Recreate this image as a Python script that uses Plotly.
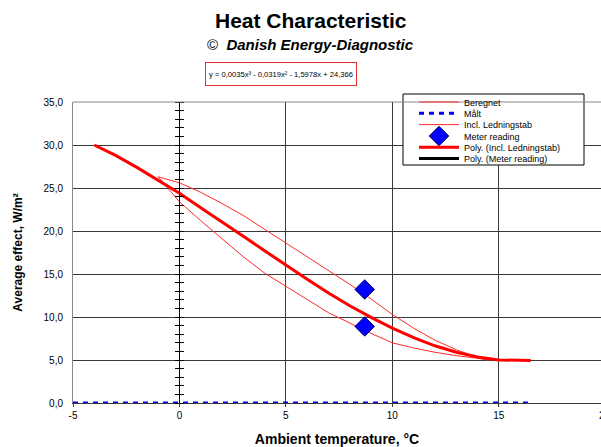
import plotly.graph_objects as go

# ---------------- data ----------------
poly_x = [-4, -3, -2, -1, 0, 1, 2, 3, 4, 5, 6, 7, 8, 9, 10, 11, 12, 13, 14, 15, 16, 16.5]
poly_y = [30.0, 28.8, 27.4, 25.9, 24.4, 22.7, 21.1, 19.4, 17.7, 16.0, 14.4, 12.8, 11.3, 9.95, 8.7, 7.6, 6.65, 5.9, 5.35, 5.0, 4.95, 4.95]

incl_x = [-1.0, 0, 1, 2, 3, 4, 5, 6, 7, 8, 9, 10, 11, 12, 13, 14, 14.5]
incl_y = [26.3, 25.6, 24.5, 23.2, 21.8, 20.2, 18.7, 17.0, 15.4, 13.8, 12.1, 10.3, 8.7, 7.3, 6.2, 5.3, 5.0]

beregnet_x = [-1.0, -0.5, 0, 1, 2, 3, 4, 5, 6, 7, 8, 9, 10, 11, 12, 13, 14, 14.5]
beregnet_y = [26.3, 24.8, 23.4, 21.2, 19.1, 17.0, 15.1, 13.6, 12.0, 10.5, 9.3, 8.1, 7.0, 6.4, 5.9, 5.5, 5.2, 5.0]

maalt_x = [-5, -4, -3, -2, -1, 0, 1, 2, 3, 4, 5, 6, 7, 8, 9, 10, 11, 12, 13, 14, 15, 16, 16.5]
maalt_y = [0.0] * len(maalt_x)

meter_x = [8.7, 8.7]
meter_y = [13.2, 8.9]

y_ticks = [0, 5, 10, 15, 20, 25, 30, 35]
y_tick_text = ["0,0", "5,0", "10,0", "15,0", "20,0", "25,0", "30,0", "35,0"]
x_ticks = [-5, 0, 5, 10, 15]
x_tick_text = ["-5", "0", "5", "10", "15"]

X_RANGE = [-5, 19.8]
Y_RANGE = [0, 35]

# ---------------- layout geometry (pixels) ----------------
W, H = 601, 447
ML, MR, MT, MB = 73, 0, 102, 44
PW = W - ML - MR
PH = H - MT - MB


def px_x(p):
    return (p - ML) / PW


def px_y(p):
    return (H - MB - p) / PH


FONT = "Liberation Sans, Arial, sans-serif"
GRID = "#3a3a3a"

fig = go.Figure()

fig.add_trace(go.Scatter(x=beregnet_x, y=beregnet_y, mode="lines", name="Beregnet",
                         line=dict(color="#ff2a2a", width=1), legend="legend"))
fig.add_trace(go.Scatter(x=maalt_x, y=maalt_y, mode="lines", name="Målt",
                         line=dict(color="#0000ff", width=3, dash="5px,5px"), legend="legend2"))
fig.add_trace(go.Scatter(x=incl_x, y=incl_y, mode="lines", name="Incl. Ledningstab",
                         line=dict(color="#ff2a2a", width=1), legend="legend3"))
fig.add_trace(go.Scatter(x=meter_x, y=meter_y, mode="markers", name="Meter reading",
                         marker=dict(symbol="diamond", size=15, color="#0000ff",
                                     line=dict(color="#000060", width=1)), legend="legend4"))
fig.add_trace(go.Scatter(x=poly_x, y=poly_y, mode="lines", name="Poly. (Incl. Ledningstab)",
                         line=dict(color="#ff0000", width=3), legend="legend5"))
fig.add_trace(go.Scatter(x=[None], y=[None], mode="lines", name="Poly. (Meter reading)",
                         line=dict(color="#000000", width=3), legend="legend6"))
# invisible helpers so the tick-bearing zero axes are drawn
fig.add_trace(go.Scatter(x=[None], y=[None], yaxis="y2", showlegend=False, hoverinfo="skip"))
fig.add_trace(go.Scatter(x=[None], y=[None], yaxis="y3", showlegend=False, hoverinfo="skip"))

# legend rows
row_y = [102, 113.3, 124.6, 136, 147.3, 158.6]
leg_common = dict(bgcolor="rgba(0,0,0,0)", borderwidth=0, xanchor="left", yanchor="middle",
                  font=dict(family=FONT, size=9, color="#000"), itemwidth=40)
legends = {}
for i, ry in enumerate(row_y):
    key = "legend" if i == 0 else f"legend{i + 1}"
    legends[key] = dict(leg_common, x=px_x(414), y=px_y(ry))

fig.update_layout(**legends)

shapes = [
    # legend box
    dict(type="rect", xref="paper", yref="paper", x0=px_x(403), x1=px_x(584),
         y0=px_y(165), y1=px_y(94), fillcolor="white", line=dict(color="black", width=1),
         layer="above"),
    # top frame line
    dict(type="line", xref="paper", yref="paper", x0=0, x1=1, y0=1, y1=1,
         line=dict(color="#8a8a8a", width=1)),
]

fig.update_layout(
    width=W, height=H,
    margin=dict(l=ML, r=MR, t=MT, b=MB, autoexpand=False),
    paper_bgcolor="white", plot_bgcolor="white",
    showlegend=True,
    shapes=shapes,
    xaxis=dict(range=X_RANGE, tickvals=x_ticks, ticktext=x_tick_text,
               showgrid=True, gridcolor=GRID, gridwidth=1,
               zeroline=False, showline=True, linecolor=GRID, linewidth=1,
               ticks="outside", ticklen=3, tickcolor=GRID, automargin=False,
               tickfont=dict(family=FONT, size=10, color="#000"),
               title=dict(text="<b>Ambient temperature, °C</b>",
                          font=dict(family=FONT, size=14, color="#000"), standoff=14),
               fixedrange=True),
    yaxis=dict(range=Y_RANGE, tickvals=y_ticks, ticktext=y_tick_text,
               showgrid=True, gridcolor=GRID, gridwidth=1, automargin=False,
               zeroline=False, showline=True, linecolor="#8a8a8a", linewidth=1, mirror=False,
               ticks="", ticklabelstandoff=7,
               tickfont=dict(family=FONT, size=10, color="#000"),
               title=dict(text="<b>Average effect, W/m²</b>",
                          font=dict(family=FONT, size=12, color="#000"), standoff=18),
               fixedrange=True),
    yaxis2=dict(range=Y_RANGE, overlaying="y", anchor="free", position=5 / 24.8,
                showgrid=False, zeroline=False, showline=True, linecolor="#000", linewidth=1,
                side="left", ticks="outside", ticklen=4, tickcolor="#000", dtick=5,
                minor=dict(ticks="outside", ticklen=4, dtick=1, tickcolor="#000"),
                showticklabels=False, fixedrange=True, automargin=False),
    yaxis3=dict(range=Y_RANGE, overlaying="y", anchor="free", position=5 / 24.8,
                showgrid=False, zeroline=False, showline=False,
                side="right", ticks="outside", ticklen=4, tickcolor="#000", dtick=5,
                minor=dict(ticks="outside", ticklen=4, dtick=1, tickcolor="#000"),
                showticklabels=False, fixedrange=True, automargin=False),
)

annotations = [
    dict(text="<b>Heat Characteristic</b>", x=px_x(311), y=px_y(20), xref="paper", yref="paper",
         showarrow=False, font=dict(family=FONT, size=21, color="#000"), xanchor="center", yanchor="middle"),
    dict(text="©  <b><i>Danish Energy-Diagnostic</i></b>", x=px_x(310), y=px_y(45), xref="paper", yref="paper",
         showarrow=False, font=dict(family=FONT, size=15, color="#000"), xanchor="center", yanchor="middle"),
    dict(text="y = 0,0035x³ - 0,0319x² - 1,5978x + 24,366",
         x=px_x(281), y=px_y(74.5), xref="paper", yref="paper",
         showarrow=False, font=dict(family=FONT, size=7.6, color="#000"), xanchor="center", yanchor="middle",
         width=146, height=18, bordercolor="#e03030", borderwidth=1, borderpad=2, bgcolor="white"),
    dict(text="20", x=(20 - X_RANGE[0]) / (X_RANGE[1] - X_RANGE[0]), y=0, xref="paper", yref="paper",
         showarrow=False, font=dict(family=FONT, size=10, color="#000"), xanchor="center", yanchor="top",
         yshift=-5),
]
fig.update_layout(annotations=annotations)

fig.write_html("out.html", post_script="document.body.style.margin='0';",
               config={"displayModeBar": False})
